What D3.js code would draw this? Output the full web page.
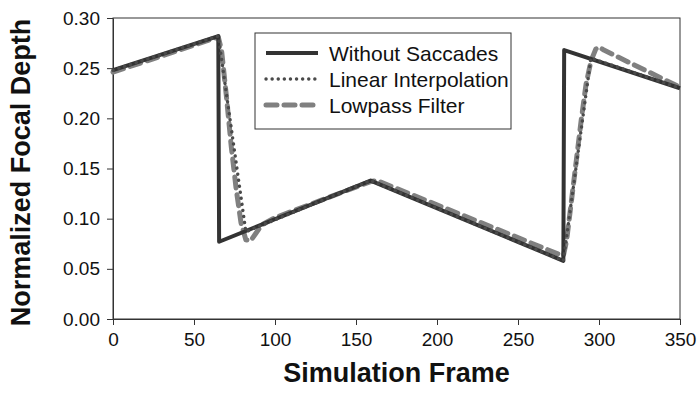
<!DOCTYPE html>
<html>
<head>
<meta charset="utf-8">
<script src="https://cdn.jsdelivr.net/npm/d3@7"></script>
<style>
  body { margin: 0; background: #fff; }
  svg { display: block; font-family: "Liberation Sans", Arial, sans-serif; }
</style>
</head>
<body>
<svg id="chart" width="700" height="402"></svg>
<script>
// Focal depth per simulation frame, three saccade-handling strategies
const xTicks = [0, 50, 100, 150, 200, 250, 300, 350];
const yTicks = [0.00, 0.05, 0.10, 0.15, 0.20, 0.25, 0.30];

const seriesNames = ["Without Saccades", "Linear Interpolation", "Lowpass Filter"];

const withoutFrames = [0, 65, 65.5, 159, 278, 278.5, 350];
const withoutValues = [0.248, 0.282, 0.077, 0.138, 0.058, 0.268, 0.230];

const linearFrames = [0, 65, 82, 159, 278, 295, 350];
const linearValues = [0.248, 0.282, 0.087, 0.138, 0.058, 0.260, 0.230];

const lowpassFrames = [0, 65, 67, 70, 73, 76, 79, 82, 85, 88, 92, 100, 159, 163, 276, 278, 280, 283, 286, 289, 292, 295, 298, 300, 303, 350];
const lowpassValues = [0.246, 0.281, 0.268, 0.222, 0.172, 0.130, 0.096, 0.079, 0.078, 0.085, 0.094, 0.101, 0.137, 0.138, 0.064, 0.063, 0.078, 0.118, 0.158, 0.198, 0.234, 0.257, 0.269, 0.271, 0.268, 0.231];

const svg = d3.select("#chart");
const margin = { left: 113, right: 20, top: 18, bottom: 83 };
const W = 700, H = 402;

const x = d3.scaleLinear().domain([0, 350]).range([margin.left, W - margin.right]);
const y = d3.scaleLinear().domain([0, 0.30]).range([H - margin.bottom, margin.top]);

// Frame around the plot area
svg.append("rect")
  .attr("x", x(0)).attr("y", y(0.30))
  .attr("width", x(350) - x(0)).attr("height", y(0) - y(0.30))
  .attr("fill", "none").attr("stroke", "#333").attr("stroke-width", 1);

const xAxis = svg.append("g")
  .attr("transform", `translate(0,${y(0)})`)
  .call(d3.axisBottom(x).tickValues(xTicks).tickSize(6).tickSizeOuter(0).tickPadding(8).tickFormat(d3.format("d")));
const yAxis = svg.append("g")
  .attr("transform", `translate(${x(0)},0)`)
  .call(d3.axisLeft(y).tickValues(yTicks).tickSize(6).tickSizeOuter(0).tickPadding(7).tickFormat(d3.format(".2f")));

[xAxis, yAxis].forEach(g => {
  g.select(".domain").attr("stroke", "#333");
  g.selectAll(".tick line").attr("stroke", "#333");
  g.selectAll(".tick text").attr("font-size", 19).attr("fill", "#111")
    .attr("font-family", "'Liberation Sans', Arial, sans-serif");
});

const line = d3.line().x(d => x(d[0])).y(d => y(d[1]));
const pairs = (fs, vs) => fs.map((f, i) => [f, vs[i]]);

const styles = [
  { color: "#333333", width: 4, dash: null, cap: "butt" },
  { color: "#4a4a4a", width: 3.4, dash: "0.1 6", cap: "round" },
  { color: "#808080", width: 5, dash: "11 7", cap: "round" }
];

const data = [
  pairs(withoutFrames, withoutValues),
  pairs(linearFrames, linearValues),
  pairs(lowpassFrames, lowpassValues)
];

// Drawn dashed first, then solid, then dotted on top
[2, 0, 1].forEach(i => {
  const s = styles[i];
  svg.append("path")
    .datum(data[i])
    .attr("d", line)
    .attr("fill", "none")
    .attr("stroke", s.color)
    .attr("stroke-width", s.width)
    .attr("stroke-linecap", s.cap)
    .attr("stroke-linejoin", "round")
    .attr("stroke-dasharray", s.dash);
});

// Legend
const lg = svg.append("g");
lg.append("rect")
  .attr("x", 255).attr("y", 33).attr("width", 256).attr("height", 96)
  .attr("fill", "#fff").attr("stroke", "#333").attr("stroke-width", 1);
seriesNames.forEach((name, i) => {
  const yy = 53 + i * 26;
  const s = styles[i];
  lg.append("line")
    .attr("x1", 266).attr("x2", 318).attr("y1", yy).attr("y2", yy)
    .attr("stroke", s.color).attr("stroke-width", s.width)
    .attr("stroke-linecap", s.cap).attr("stroke-dasharray", s.dash);
  lg.append("text")
    .attr("x", 329).attr("y", yy).attr("dy", "0.36em")
    .attr("font-size", 21).attr("fill", "#111").text(name);
});

// Axis titles
svg.append("text")
  .attr("x", (x(0) + x(350)) / 2).attr("y", 382)
  .attr("text-anchor", "middle").attr("font-size", 27).attr("font-weight", "bold")
  .attr("fill", "#111").text("Simulation Frame");
svg.append("text")
  .attr("transform", `translate(30,${(y(0) + y(0.30)) / 2 + 4}) rotate(-90)`)
  .attr("text-anchor", "middle").attr("font-size", 27).attr("font-weight", "bold")
  .attr("fill", "#111").text("Normalized Focal Depth");
</script>
</body>
</html>
